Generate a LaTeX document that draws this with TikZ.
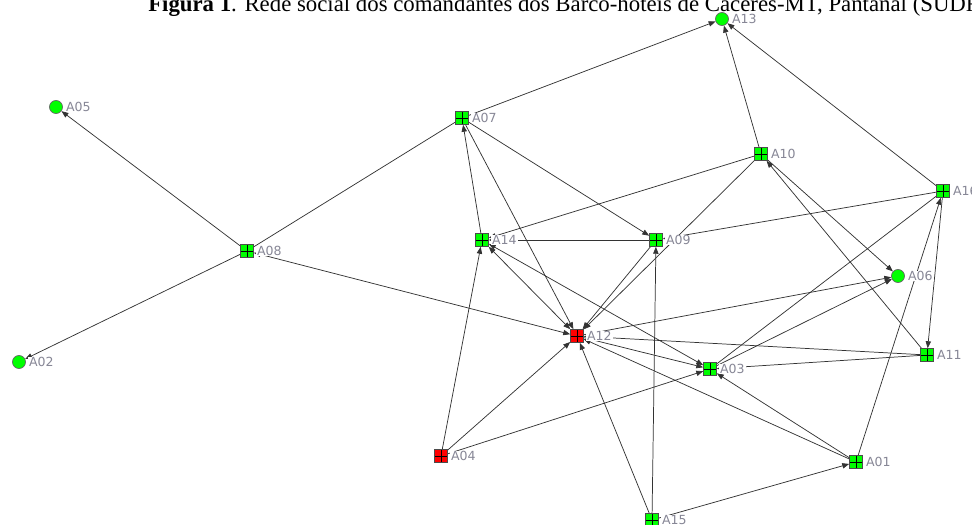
\documentclass[tikz,border=0pt]{standalone}
\usepackage{fontspec}
\setmainfont{Liberation Serif}
\newfontfamily\lblfont{DejaVu Sans}
\usetikzlibrary{arrows.meta}
\pgfdeclarelayer{background}
\pgfsetlayers{background,main}
\definecolor{ngreen}{RGB}{0,255,0}
\definecolor{nred}{RGB}{255,0,0}
\definecolor{lblgray}{RGB}{135,135,150}
\begin{document}
\begin{tikzpicture}[x=0.75pt,y=-0.75pt,
 sq/.style={rectangle,draw=black!70,fill=ngreen,minimum size=9.6pt,inner sep=0pt,line width=0.6pt,
   path picture={\draw[black,line width=0.6pt] (path picture bounding box.north)--(path picture bounding box.south) (path picture bounding box.west)--(path picture bounding box.east);}},
 rsq/.style={sq,fill=nred},
 circ/.style={circle,draw=black!60,fill=ngreen,minimum size=9.8pt,inner sep=0pt,line width=0.5pt},
 lbl/.style={anchor=west,fill=white,inner xsep=1pt,inner ysep=0.5pt,text=lblgray,font=\lblfont\fontsize{9.4}{10}\selectfont,xshift=1.2pt},
 ed/.style={line width=0.55pt,draw=black!80},
 arr/.style={ed,-{Triangle[length=5.2pt,width=4pt]}},
 barr/.style={ed,{Triangle[length=5.2pt,width=4pt]}-{Triangle[length=5.2pt,width=4pt]}}]
\useasboundingbox (0,0) rectangle (972,525);
\node[anchor=base west,inner sep=0pt,font=\fontsize{17.1}{20}\selectfont] (title) at (148,11) {\textbf{Figura 1}. Rede social dos comandantes dos Barco-hotéis de Cáceres-MT, Pantanal (SUDRI};
% nodes
\node[circ] (A13) at (722,19) {};
\node[circ] (A05) at (56,107) {};
\node[sq] (A07) at (462,118) {};
\node[sq] (A10) at (761,154) {};
\node[sq] (A16) at (943,191) {};
\node[sq] (A08) at (247,251) {};
\node[sq] (A14) at (482,240) {};
\node[sq] (A09) at (656,240) {};
\node[circ] (A06) at (898,276) {};
\node[circ] (A02) at (19,362) {};
\node[rsq] (A12) at (577,336) {};
\node[sq] (A11) at (927,355) {};
\node[sq] (A03) at (710,369) {};
\node[rsq] (A04) at (441,456) {};
\node[sq] (A01) at (856,462) {};
\node[sq] (A15) at (652,520) {};
% edges
\begin{pgfonlayer}{background}
\draw[arr] (A08) -- (A05);
\draw[arr] (A08) -- (A02);
\draw[ed] (A07) -- (A08);
\draw[barr] (A08) -- (A12);
\draw[arr] (A07) -- (A13);
\draw[arr] (A07) -- (A09);
\draw[arr] (A07) -- (A12);
\draw[arr] (A14) -- (A07);
\draw[arr] (A09) -- (A14);
\draw[arr] (A10) -- (A14);
\draw[arr] (A10) -- (A13);
\draw[arr] (A10) -- (A12);
\draw[arr] (A09) -- (A12);
\draw[arr] (A10) -- (A06);
\draw[arr] (A11) -- (A10);
\draw[arr] (A16) -- (A13);
\draw[arr] (A16) -- (A09);
\draw[arr] (A16) -- (A11);
\draw[arr] (A01) -- (A16);
\draw[ed] (A03) -- (A16);
\draw[arr] (A03) -- (A06);
\draw[arr] (A12) -- (A06);
\draw[arr] (A11) -- (A12);
\draw[arr] (A11) -- (A03);
\draw[arr] (A15) -- (A01);
\draw[arr] (A15) -- (A09);
\draw[arr] (A15) -- (A12);
\draw[arr] (A04) -- (A14);
\draw[arr] (A04) -- (A12);
\draw[arr] (A04) -- (A03);
\draw[barr] (A14) -- (A03);
\draw[arr] (A12) -- (A03);
\draw[arr] (A01) -- (A03);
\draw[arr] (A01) -- (A12);
\draw[barr] (A12) -- (A14);
\end{pgfonlayer}
% labels
\foreach \n in {A13,A05,A07,A10,A16,A08,A14,A09,A06,A02,A12,A11,A03,A04,A01,A15}{
  \node[lbl] (l\n) at (\n.east) {\n};
}
\end{tikzpicture}
\end{document}
